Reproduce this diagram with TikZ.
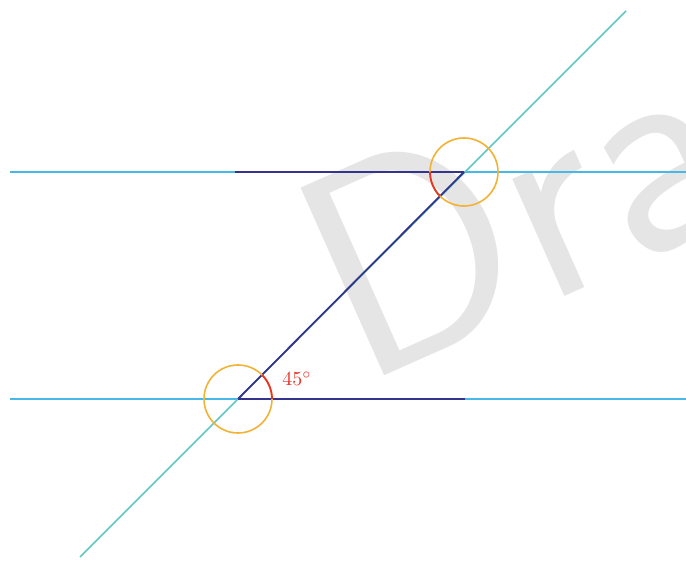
\documentclass[tikz,border=0pt]{standalone}
\usetikzlibrary{positioning}
\definecolor{lineblue}{RGB}{70,185,232}
\definecolor{transgreen}{RGB}{95,200,195}
\definecolor{navyseg}{RGB}{52,52,140}
\definecolor{ringorange}{RGB}{242,178,52}
\definecolor{anglered}{RGB}{232,52,40}

\begin{document}
\begin{tikzpicture}[x=0.5pt, y=0.5pt, line width=0.8pt,
  parallel/.style={lineblue},
  transversal/.style={transgreen},
  highlight/.style={navyseg, line width=0.9pt},
  ring/.style={ringorange},
  anglemark/.style={anglered, line width=0.9pt}]
  \useasboundingbox (0,0) rectangle (686,561);
  \clip (0,0) rectangle (686,561);
  % watermark
  \node[anchor=base west, rotate=24, inner sep=0pt, text=gray!20,
        font=\fontsize{148}{148}\selectfont\sffamily] (wm) at (360,174) {Draft};
  % intersections and line ends
  \coordinate (A) at (238,162);  \coordinate (B) at (464,389);
  \coordinate (lowW) at (10,162);  \coordinate (lowE) at (686,162);
  \coordinate (upW) at (10,389);   \coordinate (upE) at (686,389);
  \coordinate (trSW) at (80,4);    \coordinate (trNE) at (626,550);
  \coordinate (lowEnd) at (465,162);  \coordinate (upEnd) at (235,389);
  \draw[parallel] (lowW) -- (lowE);
  \draw[parallel] (upW) -- (upE);
  \draw[transversal] (trSW) -- (trNE);
  % highlighted segments
  \draw[highlight] (A) -- (lowEnd);
  \draw[highlight] (upEnd) -- (B);
  \draw[highlight] (A) -- (B);
  \foreach \p in {A,B} \draw[ring] (\p) circle[radius=34];
  \draw[anglemark] ([shift={(0:34)}]A) arc[start angle=0, end angle=45, radius=34];
  \draw[anglemark] ([shift={(180:34)}]B) arc[start angle=180, end angle=225, radius=34];
  \node[text=anglered] (ang) at (297,182) {$45^\circ$};
\end{tikzpicture}
\end{document}
